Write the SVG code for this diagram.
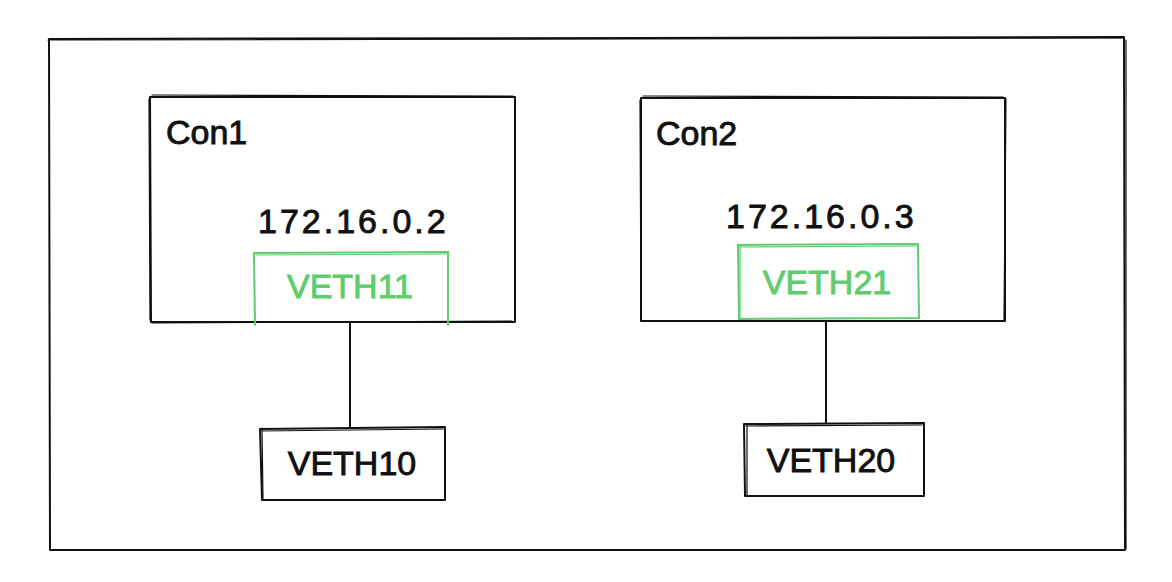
<svg xmlns="http://www.w3.org/2000/svg" width="1172" height="582" viewBox="0 0 1172 582">
<style>
.box{fill:none;stroke:#111;stroke-width:2;stroke-linejoin:round;stroke-linecap:round}
.sk{fill:none;stroke:#111;stroke-width:1.2;stroke-linecap:round}
.gbox{fill:none;stroke:#5fcd6e;stroke-width:2;stroke-linecap:round}
.gsk{fill:none;stroke:#5fcd6e;stroke-width:1.2;stroke-linecap:round}
.t{font-family:"Liberation Sans",Arial,sans-serif;font-size:34px;fill:#111;stroke:#111;stroke-width:0.9}
.g{font-family:"Liberation Sans",Arial,sans-serif;font-size:34px;fill:#5fcd6e;stroke:#5fcd6e;stroke-width:0.9}
.ip{letter-spacing:3px}
.conn{stroke:#111;stroke-width:2;fill:none}
</style>
<rect width="1172" height="582" fill="#fff"/>
<g id="outer">
<path class="box" d="M49 39 L1124 37 L1125 550 L50 550 Z"/>
<path class="sk" d="M48 40 L1122 38 M1126 40 L1126 549"/>
</g>
<g id="con1">
<path class="box" d="M150 97 L515 97 L515 322 L151 322 Z"/>
<path class="sk" d="M152 95 L513 96 M149 99 L150 320 M152 323 L512 321"/>
<text class="t" x="166" y="144">Con1</text>
<text class="t ip" x="258" y="233">172.16.0.2</text>
</g>
<g id="veth11">
<path class="gbox" d="M254 253 L448 252 L448 325 M254 253 L255 325"/>
<path class="gsk" d="M256 255 L446 254"/>
<text class="g" x="350" y="298" text-anchor="middle">VETH11</text>
</g>
<g id="con2">
<path class="box" d="M641 98 L1005 98 L1005 321 L641 321 Z"/>
<path class="sk" d="M643 96 L1003 97 M640 100 L641 319 M1006 99 L1004 320"/>
<text class="t" x="656" y="145">Con2</text>
<text class="t ip" x="726" y="228">172.16.0.3</text>
</g>
<g id="veth21">
<path class="gbox" d="M738 245 L918 244 L919 318 L739 319 Z"/>
<path class="gsk" d="M741 247 L916 246 M740 244 L740 318"/>
<text class="g" x="827" y="294" text-anchor="middle">VETH21</text>
</g>
<g id="veth10">
<path class="box" d="M260 429 L445 427 L445 500 L262 500 Z"/>
<path class="sk" d="M262 431 L443 429 M262 428 L263 499"/>
<text class="t" x="352" y="475" text-anchor="middle">VETH10</text>
</g>
<g id="veth20">
<path class="box" d="M744 424 L924 423 L924 496 L745 496 Z"/>
<path class="sk" d="M746 426 L922 425 M747 425 L747 495"/>
<text class="t" x="831" y="472" text-anchor="middle">VETH20</text>
</g>
<g id="connectors">
<line class="conn" x1="350" y1="322" x2="350" y2="428"/>
<line class="conn" x1="826" y1="321" x2="826" y2="423"/>
</g>
</svg>
